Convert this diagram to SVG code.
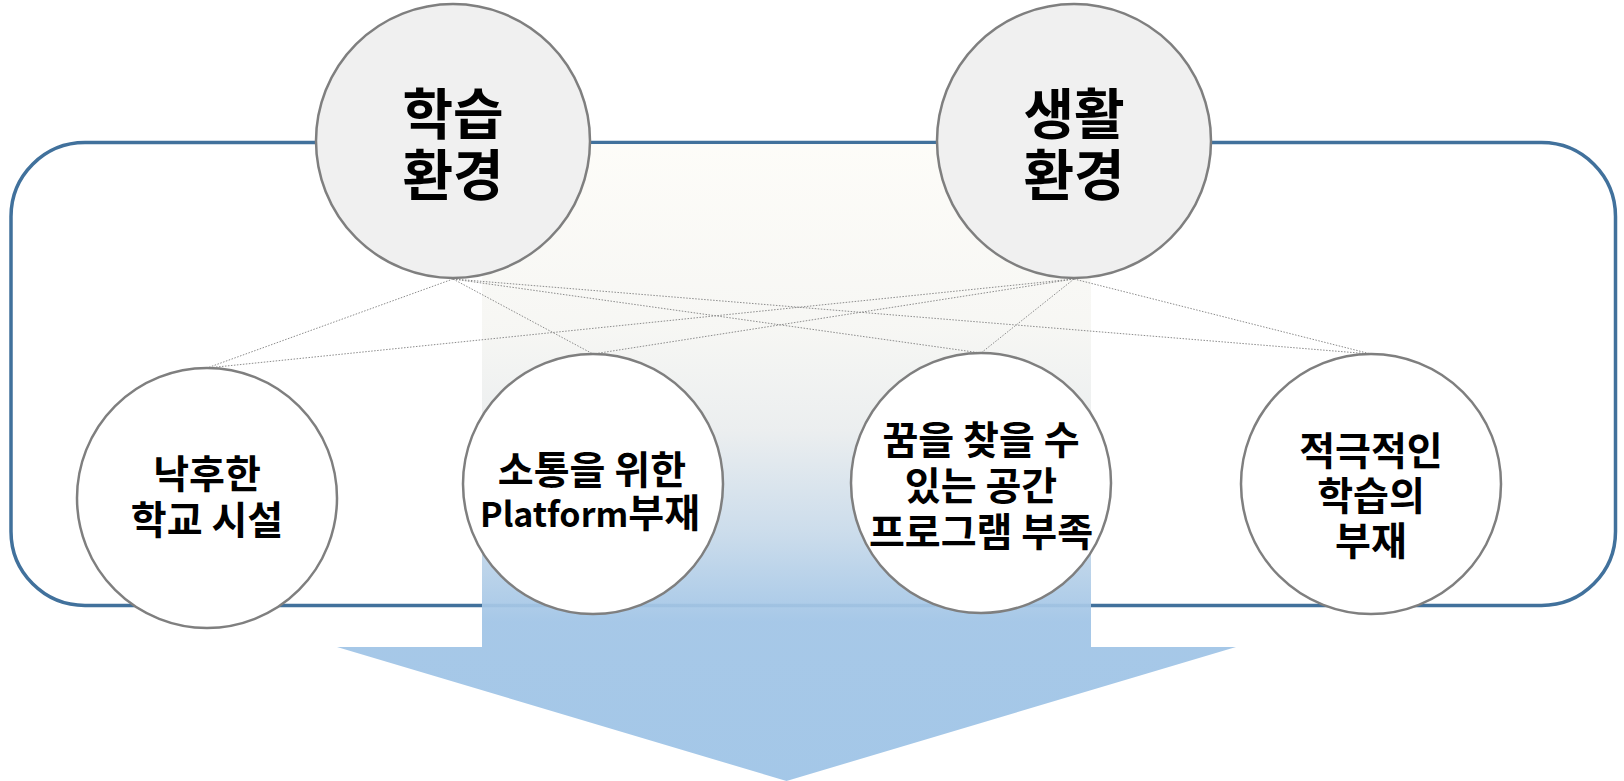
<svg xmlns="http://www.w3.org/2000/svg" width="1624" height="781" viewBox="0 0 1624 781">
  <defs>
    <linearGradient id="arrowGrad" gradientUnits="userSpaceOnUse" x1="0" y1="143" x2="0" y2="781">
      <stop offset="0" stop-color="#FDFCF8"/>
      <stop offset="0.29" stop-color="#F6F6F3"/>
      <stop offset="0.45" stop-color="#EAEDEE"/>
      <stop offset="0.61" stop-color="#C8DAEA"/>
      <stop offset="0.75" stop-color="#A0C4E6"/>
      <stop offset="1" stop-color="#9DC3E6"/>
    </linearGradient>
    <style>
      .frame { fill: #FFFFFF; stroke: #41719C; stroke-width: 3.5; }
      .big { fill: #F0F0F0; stroke: #7F7F7F; stroke-width: 2.5; }
      .small { fill: #FFFFFF; stroke: #7F7F7F; stroke-width: 2.5; }
      .conn { stroke: #8C8C8C; stroke-width: 1; stroke-dasharray: 1.5 1.5; fill: none; }
      .tBig { font-family: "Noto Sans CJK KR", "Noto Sans", sans-serif; font-weight: bold; font-size: 55px; fill: #000000; text-anchor: middle; }
      .tSmall { font-family: "Noto Sans CJK KR", "Noto Sans", sans-serif; font-weight: bold; font-size: 39px; fill: #000000; text-anchor: middle; }
      .latin { font-size: 34px; }
    </style>
  </defs>

  <rect id="frame" class="frame" x="11" y="142.5" width="1604.5" height="463" rx="74" ry="74"/>

  <path id="arrow" d="M482,144 H1091 V647 H1236 L786.5,781 L337,647 H482 Z" fill="url(#arrowGrad)" opacity="0.93"/>

  <g id="connectors">
    <line class="conn" x1="453" y1="279" x2="207" y2="368"/>
    <line class="conn" x1="453" y1="279" x2="593" y2="354"/>
    <line class="conn" x1="453" y1="279" x2="981" y2="353"/>
    <line class="conn" x1="453" y1="279" x2="1371" y2="354"/>
    <line class="conn" x1="1074" y1="279" x2="207" y2="368"/>
    <line class="conn" x1="1074" y1="279" x2="593" y2="354"/>
    <line class="conn" x1="1074" y1="279" x2="981" y2="353"/>
    <line class="conn" x1="1074" y1="279" x2="1371" y2="354"/>
  </g>

  <g id="node-learning">
    <circle class="big" cx="453" cy="141" r="137"/>
    <text class="tBig" x="453" y="134">학습</text>
    <text class="tBig" x="453" y="195">환경</text>
  </g>

  <g id="node-living">
    <circle class="big" cx="1074" cy="141" r="137"/>
    <text class="tBig" x="1074" y="134">생활</text>
    <text class="tBig" x="1074" y="195">환경</text>
  </g>

  <g id="node-facility">
    <circle class="small" cx="207" cy="498" r="130"/>
    <text class="tSmall" x="207" y="488">낙후한</text>
    <text class="tSmall" x="207" y="534">학교 시설</text>
  </g>

  <g id="node-platform">
    <circle class="small" cx="593" cy="484" r="130"/>
    <text class="tSmall" x="592" y="484">소통을 위한</text>
    <text class="tSmall" x="590" y="527"><tspan class="latin">Platform</tspan>부재</text>
  </g>

  <g id="node-dream">
    <circle class="small" cx="981" cy="483" r="130"/>
    <text class="tSmall" x="981" y="454">꿈을 찾을 수</text>
    <text class="tSmall" x="981" y="500">있는 공간</text>
    <text class="tSmall" x="981" y="546">프로그램 부족</text>
  </g>

  <g id="node-active">
    <circle class="small" cx="1371" cy="484" r="130"/>
    <text class="tSmall" x="1371" y="465">적극적인</text>
    <text class="tSmall" x="1371" y="510">학습의</text>
    <text class="tSmall" x="1371" y="555">부재</text>
  </g>
</svg>
